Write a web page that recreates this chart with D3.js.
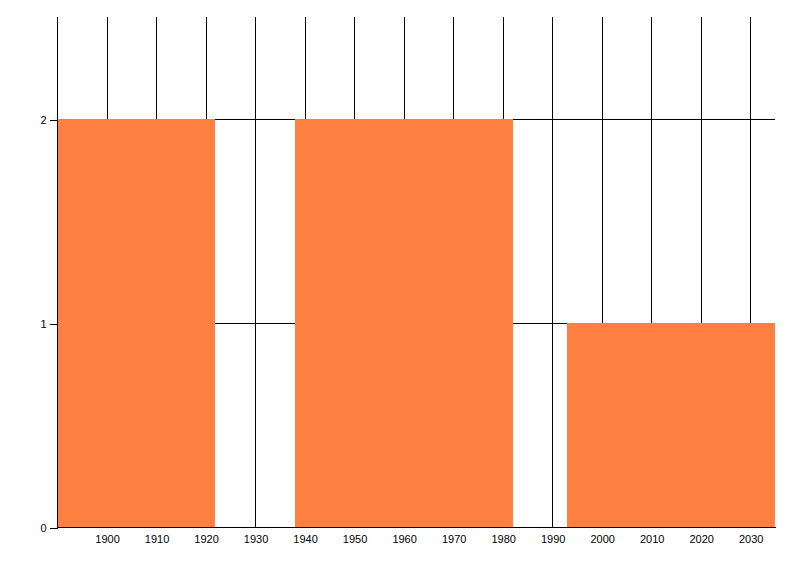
<!DOCTYPE html>
<html>
<head>
<meta charset="utf-8">
<script src="https://cdn.jsdelivr.net/npm/d3@7"></script>
<style>
  body { margin: 0; background: #fff; }
  text { font-family: "Liberation Sans", Arial, sans-serif; font-size: 11px; fill: #000; }
  .grid line, .axis line, .axis path { stroke: #000; stroke-width: 1; shape-rendering: crispEdges; }
</style>
</head>
<body>
<main></main>
<script>
// data: interval start, interval end, count
const binStart = [1890, 1938, 1993];
const binEnd = [1922, 1982, 2035];
const binCount = [2, 2, 1];
const xTicks = [1900, 1910, 1920, 1930, 1940, 1950, 1960, 1970, 1980, 1990, 2000, 2010, 2020, 2030];
const yTicks = [0, 1, 2];

const width = 800, height = 576;
const plotL = 57, plotR = 775, plotT = 17, plotB = 527;

const svg = d3.select("main").append("svg")
    .attr("width", width)
    .attr("height", height);

const x = d3.scaleLinear().domain([1890, 2035]).range([plotL, plotR]);
const y = d3.scaleLinear().domain([0, 2.5]).range([plotB, plotT]);

// grid lines (under bars)
const grid = svg.append("g").attr("class", "grid");
grid.selectAll("line.v")
    .data([1890].concat(xTicks))
    .enter().append("line")
    .attr("class", "v")
    .attr("x1", d => Math.round(x(d)) + 0.5)
    .attr("x2", d => Math.round(x(d)) + 0.5)
    .attr("y1", plotT)
    .attr("y2", plotB);
grid.selectAll("line.h")
    .data(yTicks.filter(d => d > 0))
    .enter().append("line")
    .attr("class", "h")
    .attr("x1", plotL)
    .attr("x2", plotR)
    .attr("y1", d => Math.round(y(d)) + 0.5)
    .attr("y2", d => Math.round(y(d)) + 0.5);

// bars
const bars = binStart.map((s, i) => ({ s: s, e: binEnd[i], c: binCount[i] }));
svg.append("g")
    .selectAll("rect")
    .data(bars)
    .enter().append("rect")
    .attr("x", d => Math.round(x(d.s)))
    .attr("width", d => Math.round(x(d.e)) - Math.round(x(d.s)))
    .attr("y", d => Math.round(y(d.c)))
    .attr("height", d => Math.round(y(0)) - Math.round(y(d.c)))
    .attr("fill", "#ff8040")
    .attr("shape-rendering", "crispEdges");

// x axis
const xAxis = svg.append("g")
    .attr("class", "axis")
    .attr("transform", `translate(0.5,${Math.round(y(0)) + 0.5})`)
    .call(d3.axisBottom(x).tickValues(xTicks).tickSize(0).tickSizeOuter(0).tickPadding(8).tickFormat(d3.format("d")));
xAxis.select(".domain").attr("d", `M${plotL},0H${plotR}`);

// y axis
const yAxis = svg.append("g")
    .attr("class", "axis")
    .attr("transform", `translate(${plotL + 0.5},0.5)`)
    .call(d3.axisLeft(y).tickValues(yTicks).tickSize(8).tickSizeOuter(0).tickPadding(3).tickFormat(d3.format("d")));
yAxis.select(".domain").attr("d", `M0,${plotT}V${plotB}`);
svg.selectAll(".axis text").style("font-family", "\"Liberation Sans\", Arial, sans-serif").style("font-size", "11px");
</script>
</body>
</html>
